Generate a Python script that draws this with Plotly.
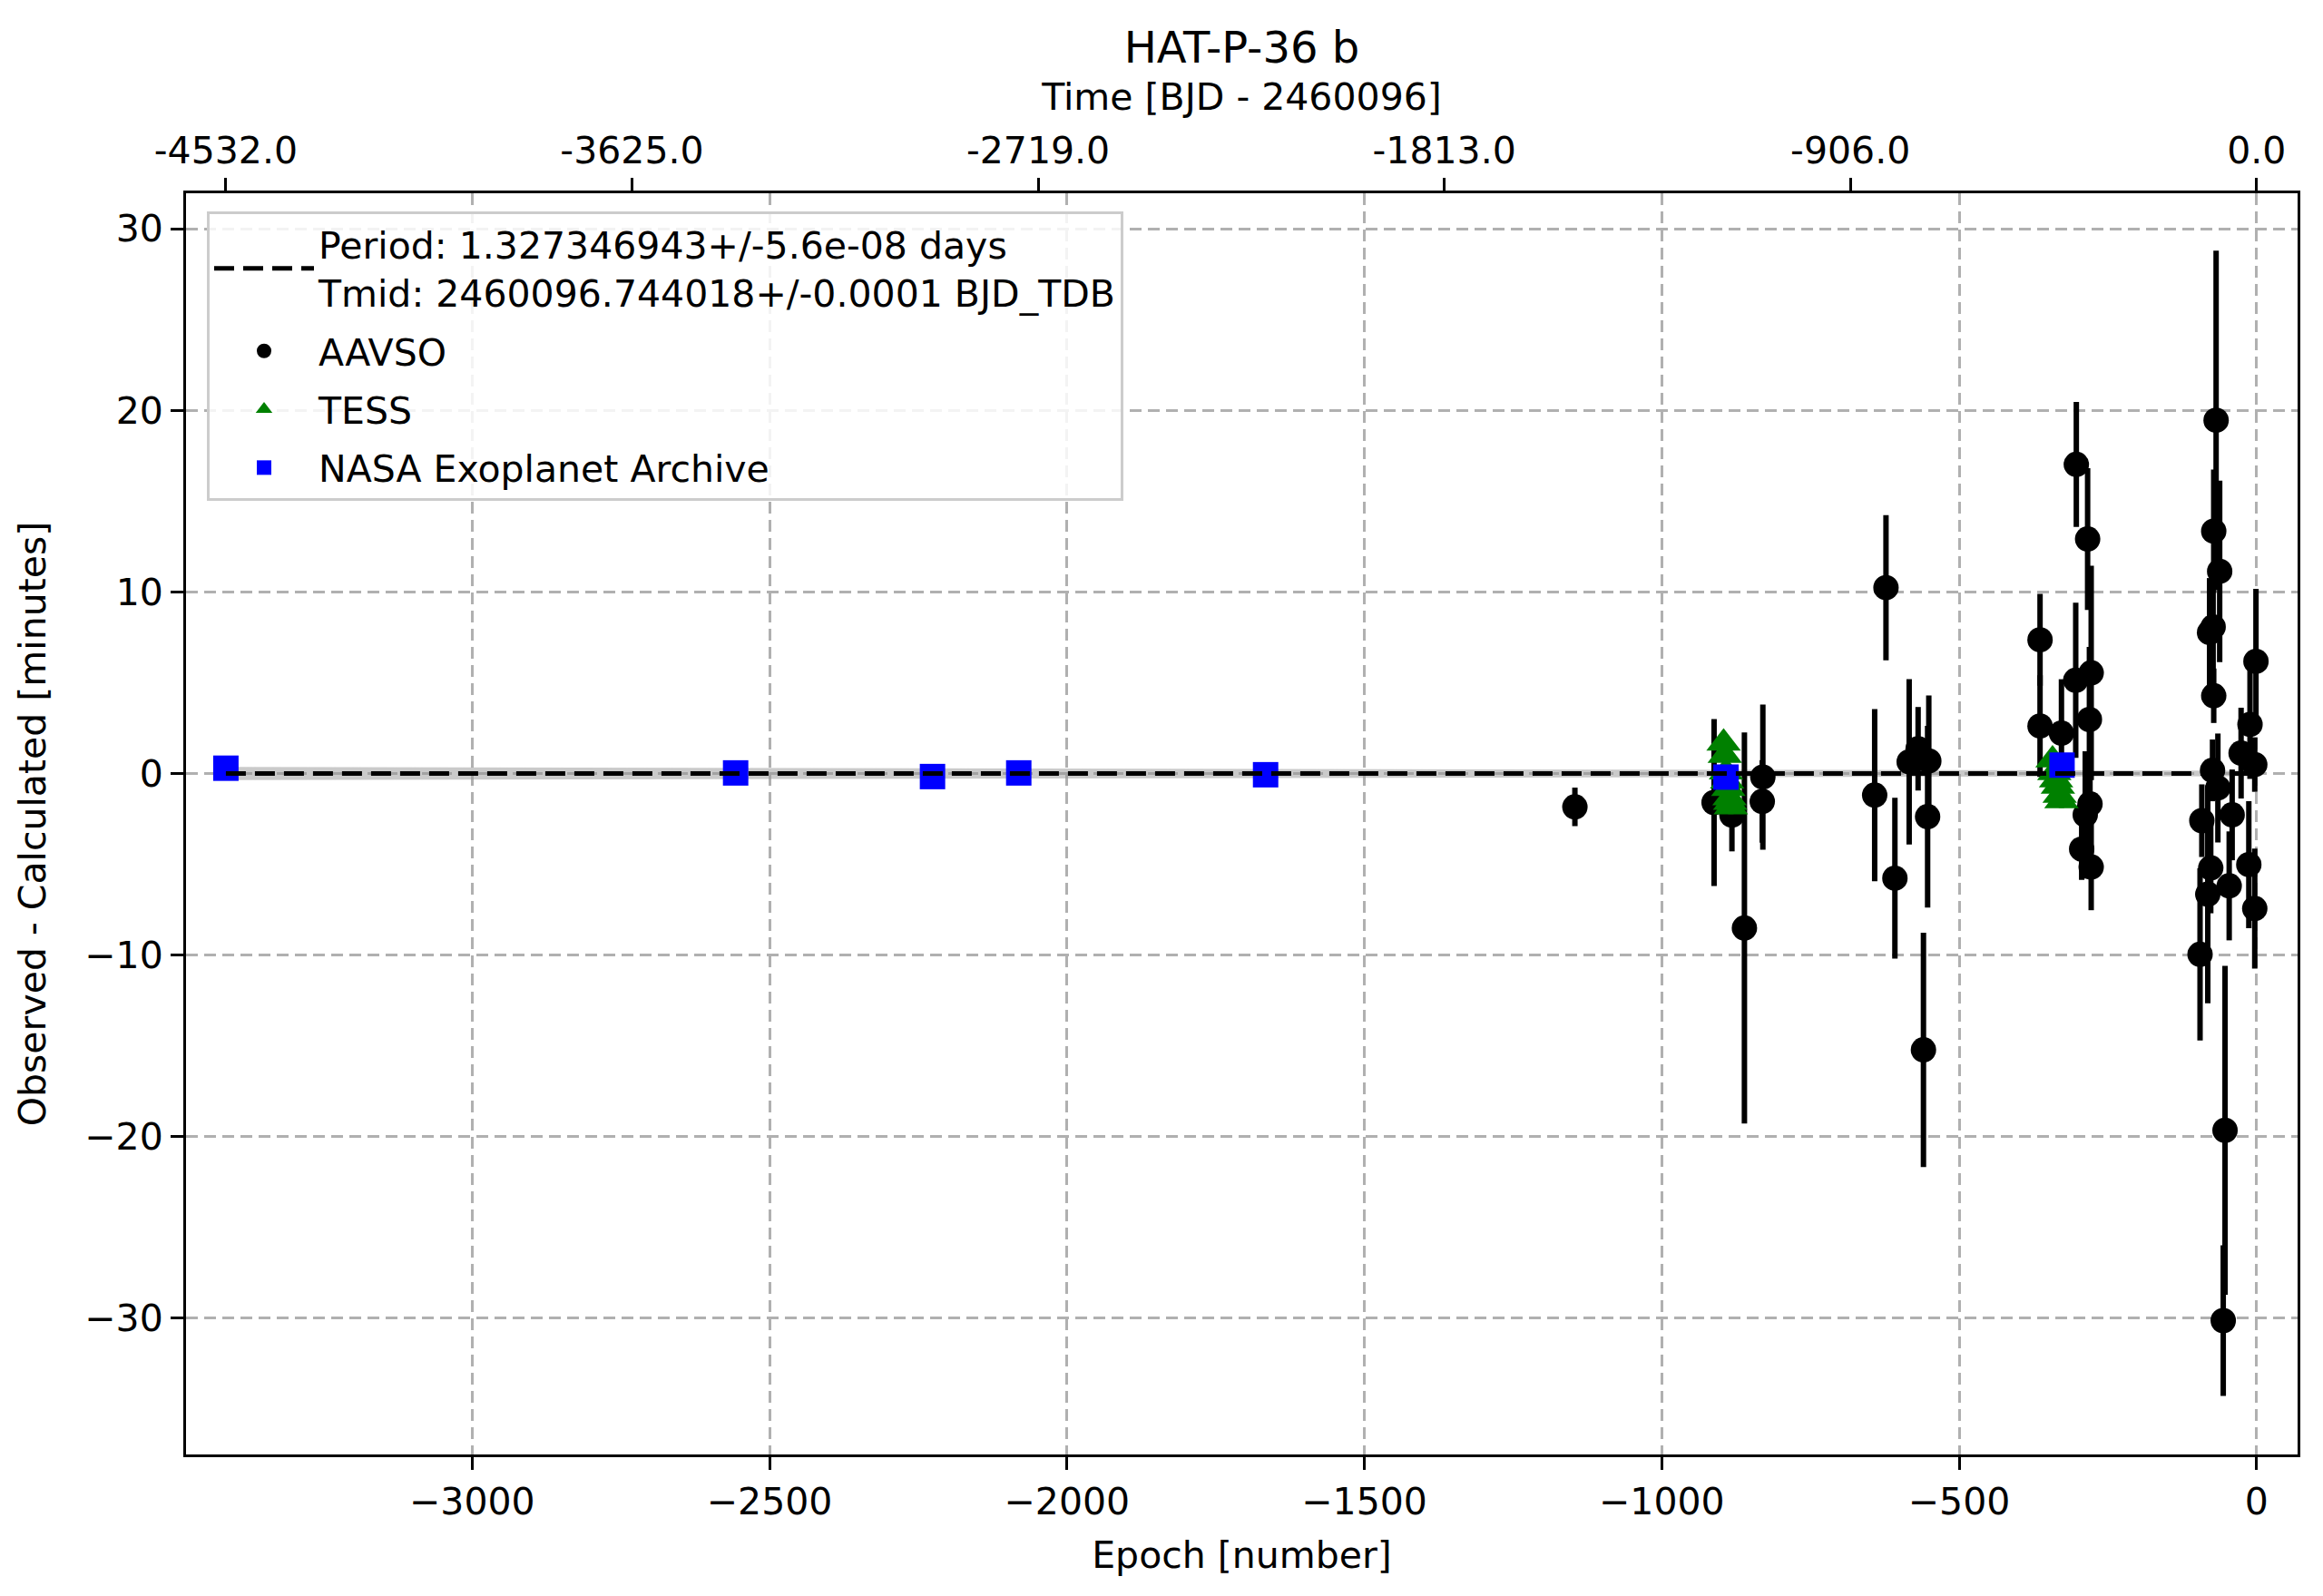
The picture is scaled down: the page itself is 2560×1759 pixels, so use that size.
"""O-C diagram for HAT-P-36 b (AAVSO, TESS and NASA Exoplanet Archive mid-transit times)."""

import plotly.graph_objects as go

FONT = "DejaVu Sans"

# --- data ------------------------------------------------------------------
aavso_epoch = [-1146, -912, -882, -861, -830, -831,
               -623, -642, -608, -584, -569, -551, -553, -560,
               -364, -364, -328, -304, -303, -284, -278, -281, -280, -288, -294, -278,
               -68, -72, -62, -79, -73, -72, -1, -11, -26, -3, -74, -92, -13, -3,
               -82, -77, -46, -65, -41, -95, -53, -56]
aavso_oc = [-1.84, -1.6, -2.29, -8.51, -0.2, -1.54,
            10.23, -1.19, -5.77, 0.64, 1.36, 0.69, -2.38, -15.22,
            7.36, 2.61, 2.22, 5.13, 17.02, 12.91, 5.54, 2.97, -1.68, -2.28, -4.16, -5.15,
            19.45, 13.34, 11.13, 7.76, 8.07, 4.28, 6.17, 2.7, 1.12, 0.49, 0.17, -2.6, -5.02, -7.44,
            -6.65, -5.2, -6.19, -0.8, -2.28, -9.96, -19.65, -30.13]
aavso_err = [1.06, 4.6, 2.0, 10.77, 4.0, 2.27,
             4.0, 4.74, 4.43, 4.55, 2.3, 3.6, 5.0, 6.45,
             2.53, 2.8, 2.97, 4.27, 3.44, 3.9, 5.9, 4.0, 2.5, 3.5, 1.7, 2.38,
             9.34, 3.4, 5.0, 3.0, 2.5, 1.5, 4.0, 3.0, 2.5, 1.5, 1.7, 2.0, 3.5, 3.3,
             6.0, 2.5, 3.0, 3.0, 2.5, 4.74, 9.06, 4.15]

tess_epoch = [-896, -894, -892, -890, -888, -886, -885, -884,
              -343, -340, -337, -334, -331, -328]
tess_oc = [1.67, 1.0, 0.09, -0.42, -0.83, -1.34, -1.59, -1.84,
           0.75, 0.05, -0.35, -0.7, -1.2, -1.5]
tess_err = [0.6, 0.5, 0.4, 0.4, 0.4, 0.4, 0.4, 0.4,
            0.5, 0.4, 0.4, 0.4, 0.4, 0.4]

nasa_epoch = [-3414, -2557, -2226, -2081, -1666, -892, -327]
nasa_oc = [0.29, 0.03, -0.17, 0.03, -0.07, -0.2, 0.46]
nasa_err = [0.3, 0.3, 0.3, 0.3, 0.3, 0.3, 0.3]

# ephemeris line and its uncertainty band (minutes)
ephem_epoch = [-3414, 0]
ephem_oc = [0, 0]
band_epoch = [-3414, -2500, -1700, -800, 0]
band_half = [0.36, 0.31, 0.27, 0.2, 0.15]

# top axis: epochs and their time labels [BJD - 2460096]
top_tick_epoch = [-3414, -2731.2, -2048.4, -1365.6, -682.8, 0]
top_tick_text = ["-4532.0", "-3625.0", "-2719.0", "-1813.0", "-906.0", "0.0"]

X_RANGE = [-3481, 69]
Y_RANGE = [-37.5, 31.95]

PERIOD_LABEL = ("Period: 1.327346943+/-5.6e-08 days<br>"
                "Tmid: 2460096.744018+/-0.0001 BJD_TDB")

# plot area in page pixels
LEFT, RIGHT, TOP, BOTTOM = 205, 2532, 213, 1603
FS = 41

# --- figure -----------------------------------------------------------------
fig = go.Figure()

# uncertainty band
fig.add_trace(go.Scatter(
    x=band_epoch + band_epoch[::-1],
    y=[h for h in band_half] + [-h for h in band_half[::-1]],
    fill="toself", fillcolor="rgba(150,150,150,0.5)",
    line=dict(width=0), mode="lines",
    showlegend=False, hoverinfo="skip",
))

fig.add_trace(go.Scatter(
    x=aavso_epoch, y=aavso_oc, mode="markers", name="AAVSO",
    marker=dict(symbol="circle", size=28, color="black"),
    error_y=dict(type="data", array=aavso_err, visible=True,
                 thickness=6, width=0, color="black"),
    legendrank=2, legendgroup="aavso",
))

fig.add_trace(go.Scatter(
    x=tess_epoch, y=tess_oc, mode="markers", name="TESS",
    marker=dict(symbol="triangle-up", size=33, color="green"),
    error_y=dict(type="data", array=tess_err, visible=True,
                 thickness=6, width=0, color="green"),
    legendrank=3, legendgroup="tess",
))

fig.add_trace(go.Scatter(
    x=nasa_epoch, y=nasa_oc, mode="markers", name="NASA Exoplanet Archive",
    marker=dict(symbol="square", size=28, color="blue"),
    error_y=dict(type="data", array=nasa_err, visible=True,
                 thickness=6, width=0, color="blue"),
    legendrank=4, legendgroup="nasa",
))

fig.add_trace(go.Scatter(
    x=ephem_epoch, y=ephem_oc, mode="lines", name=PERIOD_LABEL,
    line=dict(color="black", width=5, dash="22px,10px"),
    legendrank=1, legendgroup="ephem",
))

# dummy trace so the top axis is drawn
fig.add_trace(go.Scatter(
    x=[None], y=[None], xaxis="x2", yaxis="y",
    showlegend=False, hoverinfo="skip",
))

axis_common = dict(
    showline=True, linecolor="black", linewidth=3,
    ticks="outside", ticklen=14, tickwidth=3, tickcolor="black",
    tickfont=dict(family=FONT, size=FS, color="black"),
    zeroline=False,
)

fig.update_layout(
    width=2560,
    height=1759,
    paper_bgcolor="white",
    plot_bgcolor="white",
    margin=dict(l=LEFT, r=2560 - RIGHT, t=TOP, b=1759 - BOTTOM),
    font=dict(family=FONT, size=FS, color="black"),
    title=dict(
        text="HAT-P-36 b", x=(LEFT + RIGHT) / 2 / 2560, xanchor="center",
        y=1 - 52 / 1759, yanchor="middle", yref="container",
        font=dict(family=FONT, size=48, color="black"),
    ),
    xaxis=dict(
        range=X_RANGE, dtick=500, tick0=0, mirror=True,
        showgrid=True, gridcolor="#b0b0b0", gridwidth=3, griddash="13px,7px",
        title=dict(text="Epoch [number]", standoff=22,
                   font=dict(family=FONT, size=FS, color="black")),
        **axis_common,
    ),
    xaxis2=dict(
        range=X_RANGE, overlaying="x", side="top",
        tickmode="array", tickvals=top_tick_epoch, ticktext=top_tick_text,
        showgrid=False,
        title=dict(text="Time [BJD - 2460096]", standoff=8,
                   font=dict(family=FONT, size=FS, color="black")),
        **axis_common,
    ),
    yaxis=dict(
        range=Y_RANGE, dtick=10, tick0=0, mirror=True,
        showgrid=True, gridcolor="#b0b0b0", gridwidth=3, griddash="13px,7px",
        title=dict(text="Observed - Calculated [minutes]", standoff=30,
                   font=dict(family=FONT, size=FS, color="black")),
        **axis_common,
    ),
    legend=dict(
        x=(228 - LEFT) / (RIGHT - LEFT), y=(BOTTOM - 233) / (BOTTOM - TOP),
        xanchor="left", yanchor="top",
        bgcolor="rgba(255,255,255,0.85)", bordercolor="#cccccc", borderwidth=3,
        font=dict(family=FONT, size=FS, color="black"),
        itemwidth=110, tracegroupgap=8,
    ),
    showlegend=True,
)

fig.write_html(
    "out.html",
    config={"displayModeBar": False},
    post_script="document.body.style.margin='0';",
)
